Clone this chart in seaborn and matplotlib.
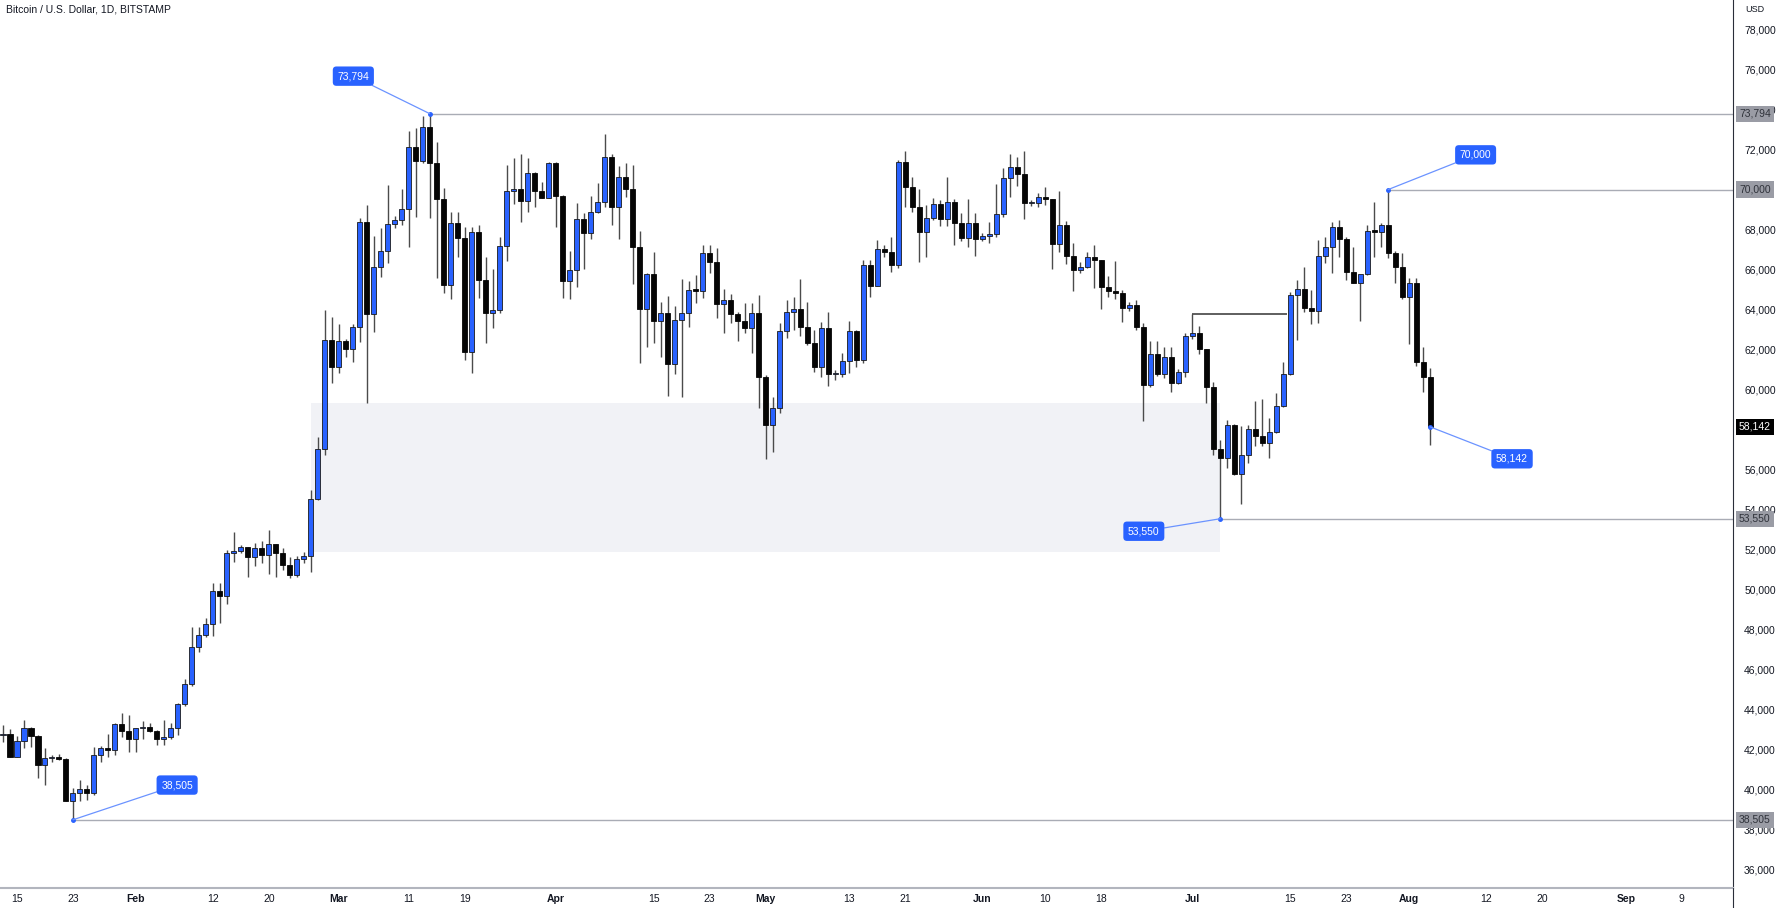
import numpy as np
import pandas as pd
import matplotlib
matplotlib.use("Agg")
import matplotlib.pyplot as plt
import matplotlib.dates as mdates
import matplotlib.transforms as mtransforms
from matplotlib.lines import Line2D
import seaborn as sns

# daily candles, BTC/USD (Bitstamp), 2024-01-13 .. 2024-08-04
dates = pd.date_range("2024-01-13", "2024-08-04", freq="D")

opens = [
    # Jan 13-31
    42750, 42810, 41660, 42460, 43090, 42710, 41230, 41590, 41640, 41540, 39460, 39830, 40050, 39860, 41760, 42110, 41990, 43280, 42930,
    # Feb
    42530, 43070, 43160, 42960, 42530, 42630, 43080, 44290, 45270, 47160, 47740, 48290, 49920, 49690, 51820, 51940, 52120, 51650, 52090, 51740,
    52270, 51820, 51240, 50740, 51540, 51710, 54520, 57040, 62480,
    # Mar
    61150, 62430, 62030, 63120, 68360, 63770, 66130, 66930, 68280, 68480, 69030, 72110, 71450, 73150, 71350, 69530, 65230, 68350, 67600, 61900,
    67860, 65480, 63820, 63980, 67180, 69910, 70010, 69430, 70810, 69910, 69600,
    # Apr
    71310, 69700, 65450, 65980, 68530, 67850, 68900, 69360, 71610, 69150, 70650, 70010, 67150, 64030, 65770, 63430, 63820, 61280, 63480, 63820,
    64980, 64950, 66850, 66400, 64270, 64480, 63770, 63430, 63070, 63820,
    # May
    60620, 58240, 59100, 62930, 63870, 64020, 63150, 62320, 61150, 63070, 60780, 60800, 61450, 62930, 61480, 66230, 65200, 67030, 66900, 66230,
    71400, 70150, 69110, 67900, 68560, 69260, 68510, 69400, 68310, 67560, 68350,
    # Jun
    67510, 67700, 67760, 68780, 70560, 71110, 70780, 69310, 69350, 69610, 69510, 67280, 68230, 66700, 65980, 66150, 66610, 66480, 65150, 64950,
    64820, 64070, 64230, 63120, 60230, 61770, 60780, 61650, 60320, 60870,
    # Jul
    62680, 62820, 62020, 60120, 57020, 56570, 58240, 55790, 56740, 58020, 57700, 57320, 57870, 59200, 60780, 64730, 65050, 64070, 63950, 66680,
    67150, 68150, 67550, 65900, 65350, 65780, 67950, 67900, 68230, 66810, 66150,
    # Aug
    64620, 65320, 61400, 60650,
]

highs = [
    43240, 43020, 42700, 43490, 43120, 42760, 42110, 41740, 41780, 41610, 40080, 40490, 40240, 42160, 42190, 42790, 43330, 43830, 43740,
    43080, 43460, 43330, 42990, 43490, 43330, 44360, 45540, 48160, 48160, 48570, 50320, 50350, 51990, 52870, 52240, 52120, 52350, 52460, 52990,
    52270, 52100, 51660, 51680, 51910, 54990, 57620, 63980, 63650,
    63270, 62550, 63270, 68560, 69230, 67700, 68100, 70230, 68680, 70030, 72930, 73060, 73690, 73794, 72400, 70100, 68900, 68900, 68110, 68150,
    68230, 66650, 66020, 67650, 71230, 71600, 71780, 71600, 70890, 70400, 71400,
    71400, 69750, 66930, 69310, 68810, 69680, 70350, 72760, 71780, 71180, 71310, 71230, 67930, 65850, 66900, 64360, 64680, 64180, 65520, 65450,
    65730, 67230, 67230, 67060, 65050, 64780, 63900, 64320, 64350, 64730,
    60730, 59620, 63320, 64480, 64620, 65520, 64400, 62990, 63400, 63900, 60980, 61820, 63430, 63000, 66480, 66480, 67480, 67230, 67650, 71500,
    71950, 70650, 70010, 69230, 69560, 69480, 70610, 69530, 68830, 69530, 68830,
    67810, 68400, 70260, 71090, 71760, 71640, 71950, 69480, 69840, 70150, 69550, 69950, 68430, 67310, 66400, 66900, 67230, 66500, 65680, 66450,
    64980, 64400, 64480, 63310, 62430, 62450, 62130, 62150, 61030, 62850,
    63800, 63180, 62030, 60400, 57490, 58490, 58290, 58190, 58240, 59450, 59520, 58570, 59820, 61400, 64900, 65480, 66150, 64980, 67480, 67610,
    68400, 68500, 67650, 67110, 65710, 68230, 69400, 68310, 70000, 66950, 66810,
    65560, 65560, 62150, 61070,
]

lows = [
    42410, 41620, 41620, 42070, 42160, 40580, 40240, 41410, 41490, 39450, 38505, 39460, 39490, 39740, 41410, 41660, 41740, 42660, 41910,
    41910, 42530, 42900, 42240, 42240, 42530, 42740, 44200, 45200, 46870, 47660, 47710, 48320, 49290, 51400, 51820, 50650, 51180, 51330, 50790,
    50660, 51000, 50570, 50650, 51330, 50900, 54470, 56740, 60350,
    60820, 61650, 61400, 62370, 59320, 62870, 65650, 66320, 68060, 68230, 67150, 68650, 71350, 68560, 65600, 64820, 64520, 66610, 61480, 60820,
    64570, 62350, 63070, 63820, 66450, 69280, 68360, 68900, 69110, 69590, 69590,
    68110, 64570, 64520, 65150, 66020, 67510, 68850, 69110, 68230, 67510, 69610, 65270, 61320, 62150, 62350, 61650, 59690, 60800, 59650, 63150,
    64320, 64570, 65850, 63570, 62820, 63320, 62430, 62850, 61820, 59100,
    56520, 56900, 58820, 62560, 63000, 62700, 62220, 60900, 60650, 60180, 60480, 60650, 60820, 61150, 61320, 64650, 65180, 66650, 65900, 66100,
    69150, 68900, 66360, 66650, 68500, 68180, 68180, 67230, 67450, 67150, 66680,
    67440, 67310, 67610, 68610, 69640, 70180, 68510, 69180, 69110, 69230, 66030, 66900, 66280, 64950, 65810, 66060, 65070, 64030, 64650, 64510,
    63370, 63950, 63000, 58450, 60150, 60680, 60570, 59900, 60280, 60650,
    62520, 61770, 59320, 56740, 53550, 56070, 55740, 54290, 56320, 57190, 57190, 56570, 57820, 59150, 60730, 62480, 63900, 63280, 63320, 66350,
    65850, 66620, 65480, 65350, 63450, 65730, 66650, 67110, 66560, 65350, 64550,
    62280, 61180, 59900, 57240,
]

closes = [
    42810, 41660, 42460, 43090, 42710, 41230, 41590, 41640, 41540, 39460, 39830, 40050, 39860, 41760, 42110, 41990, 43280, 42930, 42530,
    43070, 43160, 42960, 42530, 42630, 43080, 44290, 45270, 47160, 47740, 48290, 49920, 49690, 51820, 51940, 52120, 51650, 52090, 51740, 52270,
    51820, 51240, 50740, 51540, 51710, 54520, 57040, 62480, 61150,
    62430, 62030, 63120, 68360, 63770, 66130, 66930, 68280, 68480, 69030, 72110, 71450, 73150, 71350, 69530, 65230, 68350, 67600, 61900, 67860,
    65480, 63820, 63980, 67180, 69910, 70010, 69430, 70810, 69910, 69600, 71310,
    69700, 65450, 65980, 68530, 67850, 68900, 69360, 71610, 69150, 70650, 70010, 67150, 64030, 65770, 63430, 63820, 61280, 63480, 63820, 64980,
    64950, 66850, 66400, 64270, 64480, 63770, 63430, 63070, 63820, 60620,
    58240, 59100, 62930, 63870, 64020, 63150, 62320, 61150, 63070, 60780, 60800, 61450, 62930, 61480, 66230, 65200, 67030, 66900, 66230, 71400,
    70150, 69110, 67900, 68560, 69260, 68510, 69400, 68310, 67560, 68350, 67510,
    67700, 67760, 68780, 70560, 71110, 70780, 69310, 69350, 69610, 69510, 67280, 68230, 66700, 65980, 66150, 66610, 66480, 65150, 64950, 64820,
    64070, 64230, 63120, 60230, 61770, 60780, 61650, 60320, 60870, 62680,
    62820, 62020, 60120, 57020, 56570, 58240, 55790, 56740, 58020, 57700, 57320, 57870, 59200, 60780, 64730, 65050, 64070, 63950, 66680, 67150,
    68150, 67550, 65900, 65350, 65780, 67950, 67900, 68230, 66810, 66150, 64620,
    65320, 61400, 60650, 58142,
]

# horizontal levels (start date, price)
level_dates = ["2024-03-14", "2024-07-29", "2024-07-05", "2024-01-23"]
level_prices = [73794, 70000, 53550, 38505]

# callout labels: anchor date / price and where the label sits (offset in points)
callout_dates = ["2024-03-14", "2024-01-23", "2024-07-29", "2024-07-05", "2024-08-04"]
callout_prices = [73794, 38505, 70000, 53550, 58142]
callout_offsets = [(-55, 27), (75, 25), (63, 25), (-55, -9), (59, -23)]

# demand zone
zone_dates = ["2024-02-26", "2024-07-05"]
zone_low, zone_high = 51900, 59320

# range line from Jul 1 high to Jul 15
range_dates = ["2024-07-01 00:00", "2024-07-14 14:00"]
range_price = 63790

# price-axis ticks (70,000 and 58,000 are hidden behind the price labels)
y_ticks = list(range(36000, 78001, 2000))
y_hidden = [70000, 58000]
x_tick_dates = ["2024-01-15", "2024-01-23", "2024-02-01", "2024-02-12", "2024-02-20", "2024-03-01", "2024-03-11",
                "2024-03-19", "2024-04-01", "2024-04-15", "2024-04-23", "2024-05-01", "2024-05-13", "2024-05-21",
                "2024-06-01", "2024-06-10", "2024-06-18", "2024-07-01", "2024-07-15", "2024-07-23", "2024-08-01",
                "2024-08-12", "2024-08-20", "2024-09-01", "2024-09-09"]
x_tick_labels = ["15", "23", "Feb", "12", "20", "Mar", "11", "19", "Apr", "15", "23", "May", "13", "21",
                 "Jun", "10", "18", "Jul", "15", "23", "Aug", "12", "20", "Sep", "9"]

sns.set_theme(style="white")
plt.rcParams["font.family"] = ["Liberation Sans", "DejaVu Sans"]

BLUE = "#2962ff"
TEXT = "#131722"

W, H = 1777, 908
fig = plt.figure(figsize=(W / 100, H / 100), dpi=100)
ax = fig.add_axes([0, 20 / H, 1733 / W, 888 / H])

o = np.array(opens, float)
h = np.array(highs, float)
l = np.array(lows, float)
c = np.array(closes, float)
x = mdates.date2num(dates)
up = c >= o
body_lo = np.minimum(o, c)
body_h = np.maximum(np.abs(c - o), 60)

def dnum(s):
    return mdates.date2num(pd.Timestamp(s))

# zone
ax.fill_between([dnum(zone_dates[0]), dnum(zone_dates[1])], zone_low, zone_high, color="#f1f2f6", lw=0, zorder=0)

# wicks and bodies
ax.vlines(x, l, h, color="#4b4b4b", lw=1.0, zorder=2)
ax.bar(x[up], body_h[up], bottom=body_lo[up], width=0.72, color=BLUE, edgecolor="#1a1a1a", lw=0.6, zorder=3)
ax.bar(x[~up], body_h[~up], bottom=body_lo[~up], width=0.72, color="#050505", edgecolor="#050505", lw=0.6, zorder=3)

x0 = dnum("2024-01-13") - 0.43
x1 = dnum("2024-01-13") + 247.3
ax.set_xlim(x0, x1)
ax.set_ylim(35096, 79474)

# horizontal levels
blend = mtransforms.blended_transform_factory(ax.transAxes, ax.transData)
for d, p in zip(level_dates, level_prices):
    ax.hlines(p, dnum(d), x1, color="#a9acb5", lw=1.0, zorder=1)
    ax.text(1.0035, p, f"{p:,}", transform=blend, ha="left", va="center", fontsize=7.5, color="#2f323a",
            bbox=dict(boxstyle="square,pad=0.3", fc="#9a9ca5", ec="none"), clip_on=False, zorder=6)

# current price label
ax.text(1.0035, closes[-1], f"{closes[-1]:,}", transform=blend, ha="left", va="center", fontsize=7.5, color="white",
        bbox=dict(boxstyle="square,pad=0.3", fc="#000000", ec="none"), clip_on=False, zorder=6)

# range line
ax.hlines(range_price, dnum(range_dates[0]), dnum(range_dates[1]), color="#333333", lw=1.1, zorder=4)

# callouts
for d, p, off in zip(callout_dates, callout_prices, callout_offsets):
    xd = dnum(d)
    ax.plot([xd], [p], marker="o", ms=2.5, color=BLUE, zorder=5)
    ax.annotate(f"{p:,}", xy=(xd, p), xytext=off, textcoords="offset points", ha="center", va="center",
                fontsize=7.5, color="white",
                bbox=dict(boxstyle="round,pad=0.45,rounding_size=0.35", fc=BLUE, ec="none"),
                arrowprops=dict(arrowstyle="-", color="#6b93ff", lw=0.9, shrinkA=0, shrinkB=0), zorder=6)

# axes styling
ax.yaxis.tick_right()
ax.set_yticks(y_ticks)
ax.set_yticklabels(["" if v in y_hidden else f"{v:,}" for v in y_ticks], fontsize=7.5, color=TEXT)
ax.tick_params(axis="y", length=0, pad=8)
ax.set_xticks([dnum(d) for d in x_tick_dates])
ax.set_xticklabels(x_tick_labels, fontsize=7.5, color=TEXT)
for lab in ax.get_xticklabels():
    if not lab.get_text().isdigit():
        lab.set_fontweight("bold")
ax.tick_params(axis="x", length=0, pad=4)
ax.grid(False)
for s in ["top", "left"]:
    ax.spines[s].set_visible(False)
ax.spines["bottom"].set_color("#b2b5be")
ax.spines["bottom"].set_linewidth(1.5)
ax.spines["right"].set_color("#2a2e39")
ax.spines["right"].set_linewidth(0.8)
fig.add_artist(Line2D([1733 / W, 1733 / W], [0, 20 / H], color="#2a2e39", lw=0.8))

fig.text(6 / W, 1 - 9 / H, "Bitcoin / U.S. Dollar, 1D, BITSTAMP", fontsize=7.5, color=TEXT, ha="left", va="center")
fig.text(1745 / W, 1 - 10 / H, "USD", fontsize=6.5, color=TEXT, ha="left", va="center")

fig.savefig("out.png", dpi=100)
